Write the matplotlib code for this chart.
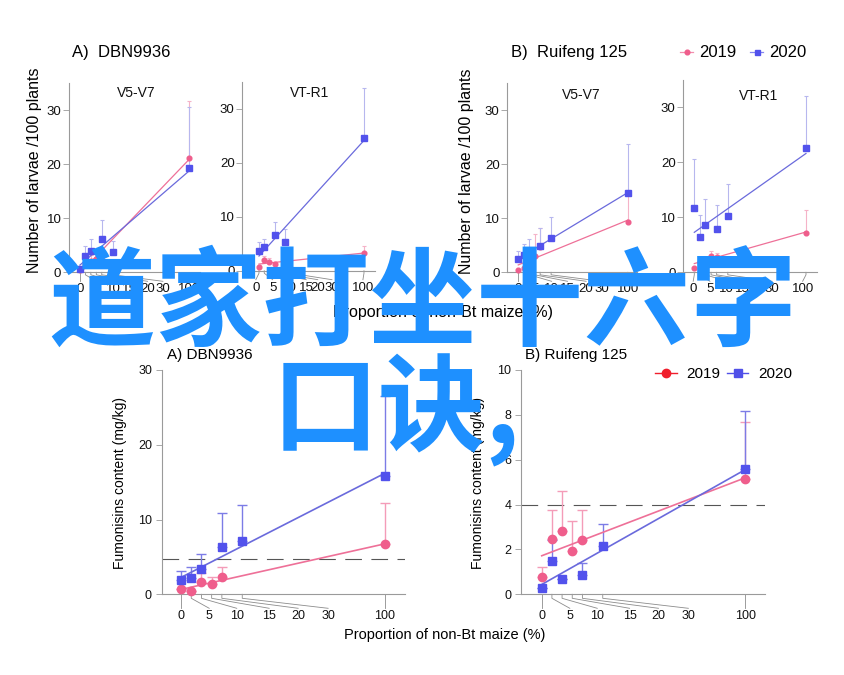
import numpy as np
import matplotlib
matplotlib.use('Agg')
import matplotlib.pyplot as plt
from matplotlib.lines import Line2D

plt.rcParams['font.family'] = ['Liberation Sans', 'DejaVu Sans']

# ------------------------------------------------------------------ data
tick_values = [0, 5, 10, 15, 20, 30, 100]
tick_labels = ['0', '5', '10', '15', '20', '30', '100']
years = ['2019', '2020']

# Larvae (number / 100 plants) -- upper error bar ends given as "up"
larv_A_V5_2019_x = [0, 5, 10, 15, 20, 100]
larv_A_V5_2019_y = [0.4, 1.5, 2.0, 2.5, 3.0, 21.1]
larv_A_V5_2019_up = [0.9, 2.5, 3.2, 3.8, 4.5, 31.6]
larv_A_V5_2020_x = [0, 5, 10, 20, 30, 100]
larv_A_V5_2020_y = [0.63, 3.1, 4.0, 6.1, 3.7, 19.2]
larv_A_V5_2020_up = [0.63, 4.8, 6.2, 9.7, 5.8, 30.5]

larv_A_VT_2019_x = [0, 5, 10, 15, 100]
larv_A_VT_2019_y = [0.7, 2.0, 1.6, 1.26, 3.27]
larv_A_VT_2019_up = [0.9, 2.8, 2.3, 1.5, 4.65]
larv_A_VT_2020_x = [0, 5, 15, 25, 100]
larv_A_VT_2020_y = [3.65, 4.34, 6.6, 5.4, 24.7]
larv_A_VT_2020_up = [5.3, 5.9, 9.06, 7.7, 33.9]

larv_B_V5_2019_x = [0, 5, 10, 15, 20, 100]
larv_B_V5_2019_y = [0.43, 0.8, 2.5, 3.0, 4.6, 9.3]
larv_B_V5_2019_up = [0.43, 0.8, 4.0, 7.1, 8.2, 15.3]
larv_B_V5_2020_x = [0, 5, 10, 20, 30, 100]
larv_B_V5_2020_y = [2.48, 3.2, 3.5, 4.95, 6.44, 14.7]
larv_B_V5_2020_up = [3.9, 5.3, 6.1, 8.2, 10.3, 23.8]

larv_B_VT_2019_x = [0, 5, 10, 15, 20, 100]
larv_B_VT_2019_y = [0.8, 1.8, 2.5, 3.0, 2.85, 7.2]
larv_B_VT_2019_up = [0.8, 1.8, 2.5, 3.96, 3.54, 11.4]
larv_B_VT_2020_x = [0, 5, 10, 20, 30, 100]
larv_B_VT_2020_y = [11.65, 6.5, 8.6, 7.8, 10.2, 22.6]
larv_B_VT_2020_up = [20.7, 10.4, 13.4, 12.3, 16.0, 32.1]

# Fumonisins content (mg/kg)
fum_A_2019_x = [0, 5, 10, 15, 20, 100]
fum_A_2019_y = [0.67, 0.4, 1.65, 1.34, 2.32, 6.69]
fum_A_2019_up = [0.67, 0.4, 2.9, 2.27, 3.7, 12.26]
fum_A_2020_x = [0, 5, 10, 20, 30, 100]
fum_A_2020_y = [1.87, 2.14, 3.34, 6.29, 7.09, 15.83]
fum_A_2020_up = [3.17, 3.7, 5.35, 10.88, 11.9, 26.5]
fum_A_limit = 4.7

fum_B_2019_x = [0, 5, 10, 15, 20, 100]
fum_B_2019_y = [0.75, 2.45, 2.82, 1.95, 2.42, 5.13]
fum_B_2019_up = [1.22, 3.76, 4.62, 3.27, 3.76, 7.67]
fum_B_2020_x = [0, 5, 10, 20, 30, 100]
fum_B_2020_y = [0.27, 1.47, 0.68, 0.88, 2.17, 5.6]
fum_B_2020_up = [0.27, 2.4, 0.68, 1.41, 3.12, 8.17]
fum_B_limit = 4.0

watermark_line1 = '道家打坐十六字'
watermark_line2 = '口诀,'

# ------------------------------------------------------------------ layout
W, H = 844, 675
fig = plt.figure(figsize=(W / 100, H / 100), dpi=100)


def rect(l, t, r, b):
    return [l / W, 1 - b / H, (r - l) / W, (b - t) / H]


def fx(x):
    return x / W


def fy(y):
    return 1 - y / H


PINK = '#EF5E8C'
BLUE = '#5252EC'
PINK_LINE = '#EE7098'
BLUE_LINE = '#6A6ADC'
GRAY = '#9a9a9a'


def style_axes(ax):
    for s in ['top', 'right']:
        ax.spines[s].set_visible(False)
    for s in ['left', 'bottom']:
        ax.spines[s].set_color(GRAY)
        ax.spines[s].set_linewidth(0.8)
    ax.set_xticks([])


def draw_xticks(ax, h_px, labpos, d1, d2, dlab, fs):
    tr = ax.get_xaxis_transform()
    for tv, lp, lab in zip(tick_values, labpos, tick_labels):
        ax.plot([tv, tv, lp], [0, -d1 / h_px, -d2 / h_px], transform=tr,
                color='#8c8c8c', lw=0.6, clip_on=False)
        ax.text(lp, -dlab / h_px, lab, transform=tr, ha='center', va='center',
                fontsize=fs, color='#111111')


def series(ax, x, y, up, color, lcolor, ecolor, marker, ms, lw, capsize, elw):
    x = np.array(x, float)
    y = np.array(y, float)
    up = np.array(up, float)
    ax.errorbar(x, y, yerr=[np.zeros_like(y), up - y], fmt='none', ecolor=ecolor,
                elinewidth=elw, capsize=capsize, capthick=elw, clip_on=False, zorder=2)
    k, b = np.polyfit(x, y, 1)
    xx = np.array([0.0, 100.0])
    ax.plot(xx, k * xx + b, color=lcolor, lw=lw, zorder=3)
    ax.plot(x, y, linestyle='none', marker=marker, ms=ms, color=color,
            mec=color, clip_on=False, zorder=4)


# ---------------- top figure (larvae)
top_panels = [
    (rect(69, 83.0, 200, 272.3), (-10, 110), 'V5-V7', 0.51, 93,
     [0, 15, 30.5, 45, 62, 76, 100],
     (larv_A_V5_2019_x, larv_A_V5_2019_y, larv_A_V5_2019_up),
     (larv_A_V5_2020_x, larv_A_V5_2020_y, larv_A_V5_2020_up)),
    (rect(242.3, 82.0, 375, 270.7), (-15.9, 110.5), 'VT-R1', 0.506, 93,
     [-3, 13, 29, 45, 56, 69.5, 99],
     (larv_A_VT_2019_x, larv_A_VT_2019_y, larv_A_VT_2019_up),
     (larv_A_VT_2020_x, larv_A_VT_2020_y, larv_A_VT_2020_up)),
    (rect(507.3, 83.3, 636.7, 272.3), (-10, 108.2), 'V5-V7', 0.57, 95,
     [0, 15, 30.5, 45, 62, 76, 100.5],
     (larv_B_V5_2019_x, larv_B_V5_2019_y, larv_B_V5_2019_up),
     (larv_B_V5_2020_x, larv_B_V5_2020_y, larv_B_V5_2020_up)),
    (rect(683.3, 80.0, 816.7, 272.3), (-9.85, 109.6), 'VT-R1', 0.567, 96,
     [-1, 14, 29, 43.3, 55, 69.7, 97],
     (larv_B_VT_2019_x, larv_B_VT_2019_y, larv_B_VT_2019_up),
     (larv_B_VT_2020_x, larv_B_VT_2020_y, larv_B_VT_2020_up)),
]

for r, xl, title, tx, ty, labpos, s19, s20 in top_panels:
    ax = fig.add_axes(r)
    style_axes(ax)
    ax.set_xlim(*xl)
    ax.set_ylim(0, 35)
    ax.set_yticks([0, 10, 20, 30])
    ax.tick_params(axis='y', length=4, width=0.6, color=GRAY, labelsize=9.5,
                   pad=1.5, labelcolor='#111111')
    series(ax, *s19, PINK, PINK_LINE, '#F5B3C8', 'o', 3.4, 0.9, 1.6, 0.8)
    series(ax, *s20, BLUE, BLUE_LINE, '#B7B7EE', 's', 3.8, 0.9, 1.6, 0.8)
    h_px = r[3] * H
    draw_xticks(ax, h_px, labpos, 2.5, 9, 17, 9.5)
    top_px = (1 - r[1] - r[3]) * H
    ax.text(tx, 1 - (ty - top_px) / h_px, title, transform=ax.transAxes,
            ha='center', va='center', fontsize=10, color='#111111')

fig.text(fx(72), fy(52.7), 'A)  DBN9936', fontsize=12, va='center', ha='left')
fig.text(fx(510.7), fy(52.7), 'B)  Ruifeng 125', fontsize=12, va='center', ha='left')
fig.text(fx(35), fy(170), 'Number of larvae /100 plants', rotation=90,
         fontsize=11.5, ha='center', va='center')
fig.text(fx(467), fy(171), 'Number of larvae /100 plants', rotation=90,
         fontsize=11.5, ha='center', va='center')
fig.text(fx(443), fy(312), 'Proportion of non-Bt maize (%)', fontsize=11.5,
         ha='center', va='center')

# top legend
for (x0, x1, xm, xt, c, m, ms, lab) in [
        (680, 693, 686.5, 699, PINK, 'o', 3.4, years[0]),
        (750, 763, 756.5, 769, BLUE, 's', 3.6, years[1])]:
    fig.add_artist(Line2D([fx(x0), fx(x1)], [fy(52), fy(52)], color=c, lw=0.9,
                          alpha=0.7, transform=fig.transFigure))
    fig.add_artist(Line2D([fx(xm)], [fy(52)], color=c, marker=m, ms=ms,
                          transform=fig.transFigure))
    fig.text(fx(xt), fy(52.5), lab, fontsize=12, va='center', ha='left')

# ---------------- bottom figure (fumonisins)
bottom_panels = [
    (rect(161.7, 370, 405, 594.3), (-9.5, 109.8), (0, 30), [0, 10, 20, 30],
     (fum_A_2019_x, fum_A_2019_y, fum_A_2019_up),
     (fum_A_2020_x, fum_A_2020_y, fum_A_2020_up), fum_A_limit),
    (rect(521, 370, 765, 594.3), (-10.2, 109.8), (0, 10), [0, 2, 4, 6, 8, 10],
     (fum_B_2019_x, fum_B_2019_y, fum_B_2019_up),
     (fum_B_2020_x, fum_B_2020_y, fum_B_2020_up), fum_B_limit),
]
bottom_labpos = [0, 13.8, 27.3, 43.2, 57.4, 72.1, 100]

for r, xl, yl, yt, s19, s20, lim in bottom_panels:
    ax = fig.add_axes(r)
    style_axes(ax)
    ax.set_xlim(*xl)
    ax.set_ylim(*yl)
    ax.set_yticks(yt)
    ax.tick_params(axis='y', length=4.5, width=0.6, color=GRAY, labelsize=9,
                   pad=2.5, labelcolor='#111111')
    ax.axhline(lim, color='#555555', lw=0.8, ls=(0, (15, 8.5)), zorder=1)
    series(ax, *s19, PINK, PINK_LINE, '#F49CB8', 'o', 6.0, 1.2, 3.4, 1.0)
    series(ax, *s20, BLUE, BLUE_LINE, '#7C7CE6', 's', 6.0, 1.2, 3.4, 1.0)
    h_px = r[3] * H
    draw_xticks(ax, h_px, bottom_labpos, 4, 14, 22, 9)

fig.text(fx(166.7), fy(355), 'A) DBN9936', fontsize=11, va='center', ha='left')
fig.text(fx(525), fy(355), 'B) Ruifeng 125', fontsize=11, va='center', ha='left')
fig.text(fx(120), fy(483), 'Fumonisins content (mg/kg)', rotation=90,
         fontsize=10, ha='center', va='center')
fig.text(fx(478), fy(483), 'Fumonisins content (mg/kg)', rotation=90,
         fontsize=10, ha='center', va='center')
fig.text(fx(445), fy(635), 'Proportion of non-Bt maize (%)', fontsize=10.5,
         ha='center', va='center')

# bottom legend
for (x0, x1, xm, xt, c, m, ms, lab) in [
        (655, 677, 666, 686, '#F01E2C', 'o', 6.0, years[0]),
        (727, 748, 738, 758, '#5050E8', 's', 5.6, years[1])]:
    fig.add_artist(Line2D([fx(x0), fx(x1)], [fy(373), fy(373)], color=c, lw=1.0,
                          transform=fig.transFigure))
    fig.add_artist(Line2D([fx(xm)], [fy(373)], color=c, marker=m, ms=ms,
                          transform=fig.transFigure))
    fig.text(fx(xt), fy(373.5), lab, fontsize=11, va='center', ha='left')

# ---------------- overlay text
fig.text(fx(423), fy(306), watermark_line1, fontsize=77, color='#1E90FF',
         ha='center', va='center', family=['Noto Sans CJK SC', 'DejaVu Sans'],
         fontweight='bold', zorder=50)
fig.text(fx(272), fy(410), watermark_line2, fontsize=77, color='#1E90FF',
         ha='left', va='center', family=['Noto Sans CJK SC', 'DejaVu Sans'],
         fontweight='bold', zorder=50)

fig.savefig('out.png', dpi=100)
